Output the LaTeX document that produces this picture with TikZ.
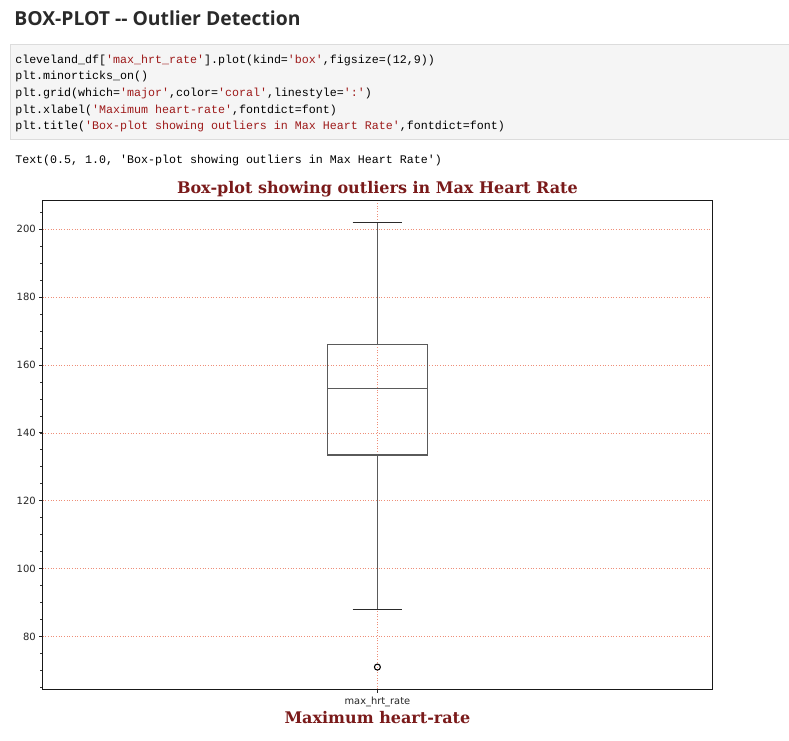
\documentclass[tikz,border=0pt]{standalone}
\usepackage{fontspec}
\setmainfont{DejaVu Serif}
\newfontfamily\hdrfont{Open Sans}
\newfontfamily\codefont{Liberation Mono}[Ligatures=TeXOff]
\newfontfamily\tickfont{DejaVu Sans}
\newfontfamily\ttlfont{DejaVu Serif}
\definecolor{hdrcol}{HTML}{2A2A2A}
\definecolor{codestr}{HTML}{9E1B1B}
\definecolor{codebg}{HTML}{F5F5F5}
\definecolor{codeborder}{HTML}{DCDCDC}
\definecolor{ttlcol}{HTML}{7A1A1A}
\definecolor{gridcol}{HTML}{EE8E78}
\definecolor{boxcol}{HTML}{5A5A5A}
\definecolor{capcol}{HTML}{2A2A2A}
\newcommand\strc[1]{\textcolor{codestr}{#1}}
\tikzset{
  codeline/.style={anchor=base west, inner sep=0, font=\codefont\fontsize{8.74}{10}\selectfont},
  ytick/.style={anchor=east, inner sep=0, font=\tickfont\fontsize{7.5}{8}\selectfont, text=black!85},
  ttl/.style={anchor=base, inner sep=0, font=\ttlfont\bfseries\fontsize{12}{14}\selectfont, text=ttlcol},
  gridline/.style={draw=gridcol, line width=0.55pt, dash pattern=on 0.8pt off 1.2pt},
  boxline/.style={draw=boxcol, line width=0.85pt},
  capline/.style={draw=capcol, line width=1pt},
}
\begin{document}
\begin{tikzpicture}[x=0.75pt,y=-0.75pt]
\useasboundingbox (0,0) rectangle (789,740);
\fill[white] (0,0) rectangle (789,740);
% header
\node[anchor=base west, inner sep=0, font=\hdrfont\bfseries\fontsize{14.5}{18}\selectfont, text=hdrcol] (hdr) at (14,25) {BOX-PLOT -{}- Outlier Detection};
% code cell
\node[draw=codeborder, fill=codebg, line width=0.75pt, anchor=north west, inner sep=0, minimum width=585pt, minimum height=71.6pt] (cell) at (9.5,44) {};
\node[codeline] (c1) at (15,63) {cleveland\_df[\strc{'max\_hrt\_rate'}].plot(kind=\strc{'box'},figsize=(12,9))};
\node[codeline] (c2) at (15,79.7) {plt.minorticks\_on()};
\node[codeline] (c3) at (15,96.4) {plt.grid(which=\strc{'major'},color=\strc{'coral'},linestyle=\strc{':'})};
\node[codeline] (c4) at (15,113.1) {plt.xlabel(\strc{'Maximum heart-rate'},fontdict=font)};
\node[codeline] (c5) at (15,129.8) {plt.title(\strc{'Box-plot showing outliers in Max Heart Rate'},fontdict=font)};
\node[codeline] (out) at (15,163) {Text(0.5, 1.0, 'Box-plot showing outliers in Max Heart Rate')};
% plot title
\node[ttl] (ptitle) at (377.4,193) {Box-plot showing outliers in Max Heart Rate};
% data scope: y in data units
\begin{scope}[shift={(0,908.0)}, yscale=-3.3935]
  % grid
  \foreach \v in {80,100,...,200} {
    \draw[gridline] (42.5,\v) -- (712.3,\v);
  }
  \draw[gridline] (377.4,64.45) -- (377.4,208.55);
  % ticks
  \foreach \v in {65,70,...,205} {
    \draw[black!80, line width=0.6pt] (42.5,\v) -- ++(-2.2,0);
  }
  \foreach \v in {80,100,...,200} {
    \draw[black!85, line width=0.7pt] (42.5,\v) -- ++(-3.8,0);
    \node[ytick] (yl\v) at (36,\v) {\v};
  }
  \draw[black!85, line width=0.7pt] (377.4,64.45) -- ++(0,-1.1);
  % box plot
  \coordinate (q1l) at (327.6,133.5);
  \coordinate (q3r) at (427.3,166);
  \coordinate (q1) at (377.4,133.5);
  \coordinate (q3) at (377.4,166);
  \coordinate (wtop) at (377.4,202);
  \coordinate (wbot) at (377.4,88);
  \draw[boxline] (q1l) rectangle (q3r);
  \draw[boxline] (327.6,153) -- (427.3,153);
  \draw[boxline] (q3) -- (wtop);
  \draw[boxline] (q1) -- (wbot);
  \draw[capline] (352.5,202) -- (402.3,202);
  \draw[capline] (352.5,88) -- (402.3,88);
  \node[draw=black, line width=0.8pt, circle, inner sep=0, minimum size=4.5pt] (outlier) at (377.4,71) {};
  % axes frame
  \draw[black!90, line width=1pt] (42.5,64.45) rectangle (712.3,208.55);
\end{scope}
% x tick label and x label
\node[anchor=base, inner sep=0, font=\tickfont\fontsize{7.4}{8}\selectfont, text=black!85] (xtl) at (377.4,704.5) {max\_hrt\_rate};
\node[ttl] (xlab) at (377.4,723) {Maximum heart-rate};
\end{tikzpicture}
\end{document}
